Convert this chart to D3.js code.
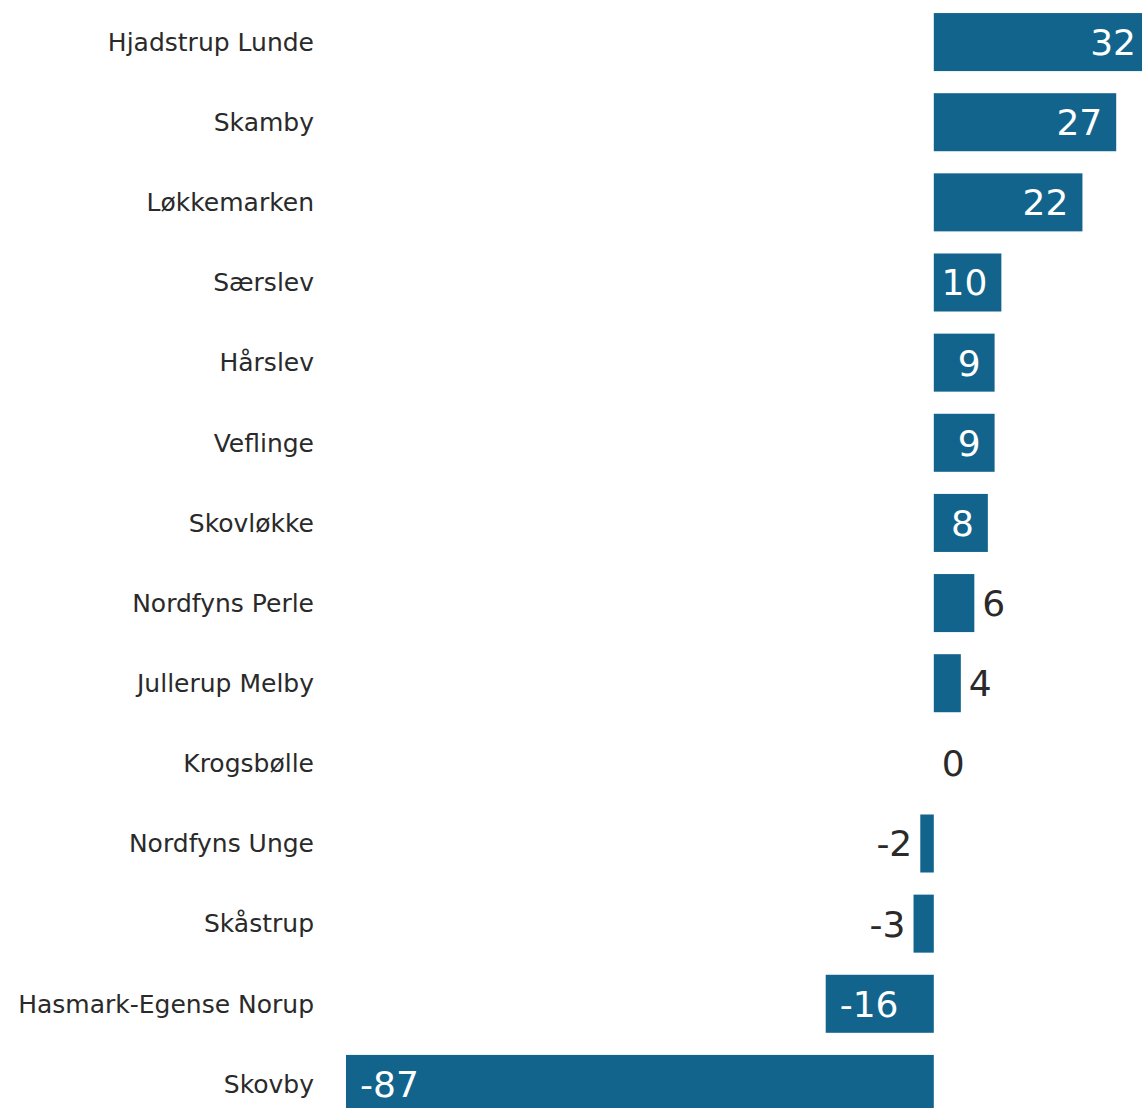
<!DOCTYPE html>
<html>
<head>
<meta charset="utf-8">
<script src="https://cdn.jsdelivr.net/npm/d3@7"></script>
<style>
  html, body { margin: 0; padding: 0; background: #fff; }
  svg { display: block; overflow: hidden; }
</style>
</head>
<body>
<svg id="chart"></svg>
<script>
// data
var categories = ["Hjadstrup Lunde", "Skamby", "Løkkemarken", "Særslev", "Hårslev", "Veflinge",
    "Skovløkke", "Nordfyns Perle", "Jullerup Melby", "Krogsbølle", "Nordfyns Unge", "Skåstrup",
    "Hasmark-Egense Norup", "Skovby"];
var values = [32, 27, 22, 10, 9, 9, 8, 6, 4, 0, -2, -3, -16, -87];

var options = {
    width: 1142,
    height: 1108,
    labelRight: 314,
    barColor: "#12648c",
    textColor: "#2a2a2a",
    labelSize: 25,
    valueSize: 36
};

var svg = d3.select('#chart')
    .attr('width', options.width)
    .attr('height', options.height);

var xScale = d3.scaleLinear().domain([-87, 32]).range([346, 1150]);
var yScale = d3.scaleBand().domain(categories).range([2, 1124])
    .paddingInner(0.276).paddingOuter(0.138);

var rows = categories.map(function(c, i){ return {name: c, value: values[i]}; });

var row = svg.selectAll('.row').data(rows).enter()
    .append('g').attr('class', 'row')
    .attr('transform', function(d){ return 'translate(0,' + yScale(d.name) + ')'; });

row.append('rect')
    .attr('x', function(d){ return Math.min(xScale(0), xScale(d.value)); })
    .attr('width', function(d){ return Math.abs(xScale(d.value) - xScale(0)); })
    .attr('height', yScale.bandwidth())
    .style('fill', options.barColor);

row.append('text')
    .attr('x', options.labelRight)
    .attr('y', yScale.bandwidth()/2)
    .attr('dy', '0.35em')
    .style('text-anchor', 'end')
    .style('font-family', 'DejaVu Sans, sans-serif')
    .style('font-size', options.labelSize + 'px')
    .style('fill', options.textColor)
    .text(function(d){ return d.name; });

// value labels: inside the bar when it fits, else outside
row.append('text')
    .attr('y', yScale.bandwidth()/2)
    .attr('dy', '0.36em')
    .style('font-family', 'DejaVu Sans, sans-serif')
    .style('font-size', options.valueSize + 'px')
    .each(function(d){
        var t = d3.select(this).text(d.value);
        var len = Math.abs(xScale(d.value) - xScale(0));
        var w = this.getComputedTextLength();
        var inside = len > w + 20;
        var end = xScale(d.value);
        if (d.value >= 0) {
            t.attr('x', inside ? end - 14 : end + 8)
             .style('text-anchor', inside ? 'end' : 'start');
        } else {
            t.attr('x', inside ? end + 14 : end - 8)
             .style('text-anchor', inside ? 'start' : 'end');
        }
        t.style('fill', inside ? '#ffffff' : options.textColor);
    });
</script>
</body>
</html>
